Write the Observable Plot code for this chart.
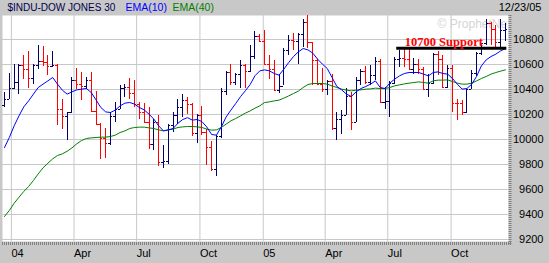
<!DOCTYPE html>
<html><head><meta charset="utf-8">
<script src="https://cdn.jsdelivr.net/npm/d3@7"></script>
<script src="https://cdn.jsdelivr.net/npm/@observablehq/plot@0.6"></script>
<style>html,body{margin:0;padding:0;background:#c8c8c8;} #chart{width:549px;height:263px;overflow:hidden}</style>
</head><body><div id="chart"></div>
<script>
// Weekly bars, week of 2003-12-22 through week of 2005-12-19
const firstWeek = "2003-12-22";
const lastWeek = "2005-12-20";
const opens = [10270,10318,10409,10458,10590,10563,10488,10593,10628,10620,
 10584,10595,10240,10186,10213,10470,10442,10425,10472,10225,
 10117,10012,9966,10188,10242,10410,10416,10371,10282,10213,
 10140,9962,10139,9815,9825,10110,10195,10260,10313,10284,
 10047,10192,10055,9933,9757,10027,10387,10539,10456,10522,
 10592,10543,10661,10827,10783,10603,10558,10392,10427,10716,
 10796,10785,10841,10940,10774,10629,10442,10404,10461,10087,
 10157,10192,10345,10140,10471,10542,10460,10512,10623,10297,
 10303,10449,10640,10651,10641,10558,10600,10559,10397,10447,
 10678,10641,10419,10569,10292,10287,10215,10402,10530,10686,
 10766,10931,10877,10778,10875];
const highs = [10376,10528,10597,10597,10669,10701,10597,10755,10741,10675,
 10701,10597,10323,10216,10496,10568,10536,10500,10536,10381,
 10125,10088,10216,10296,10435,10443,10488,10469,10296,10291,
 10256,10157,10195,9949,10120,10216,10317,10363,10336,10290,
 10200,10264,10083,9981,10029,10408,10545,10597,10528,10635,
 10600,10749,10861,10843,10869,10669,10629,10523,10728,10829,
 10851,10851,10963,10989,10780,10640,10568,10469,10523,10216,
 10230,10408,10376,10496,10557,10584,10589,10656,10643,10416,
 10461,10656,10709,10723,10728,10650,10640,10580,10523,10685,
 10701,10675,10589,10595,10317,10309,10403,10549,10696,10770,
 10957,10936,10915,10963,10931];
const lows = [10256,10317,10403,10363,10483,10408,10443,10557,10584,10509,
 10576,10115,10083,9995,10208,10397,10309,10397,10216,10109,
 9843,9851,9955,10136,10237,10336,10323,10256,10157,10136,
 9923,9909,9784,9768,9803,10056,10123,10176,10203,10024,
 9971,10029,9789,9741,9708,10008,10355,10435,10435,10408,
 10408,10535,10643,10776,10589,10483,10389,10368,10429,10669,
 10709,10603,10736,10728,10435,10435,10376,10349,10069,9989,
 10040,10189,10069,10136,10435,10443,10429,10469,10296,10243,
 10176,10440,10576,10576,10549,10520,10520,10390,10336,10440,
 10509,10410,10410,10216,10149,10190,10205,10403,10504,10675,
 10749,10749,10736,10723,10781];
const closes = [10318,10409,10458,10590,10563,10488,10593,10628,10620,10584,
 10595,10240,10186,10213,10470,10442,10425,10472,10225,10117,
 10012,9966,10188,10242,10410,10416,10371,10282,10213,10140,
 9962,10139,9815,9825,10110,10195,10260,10313,10284,10047,
 10192,10055,9933,9757,10027,10387,10539,10456,10522,10592,
 10543,10661,10827,10783,10603,10558,10392,10427,10716,10796,
 10785,10841,10940,10774,10629,10442,10404,10461,10087,10157,
 10192,10345,10140,10471,10542,10460,10512,10623,10297,10303,
 10449,10640,10651,10641,10558,10600,10559,10397,10447,10678,
 10641,10419,10569,10292,10287,10215,10402,10530,10686,10766,
 10931,10877,10778,10875,10883];
const ema10 = [9936,10016,10109,10189,10261,10309,10363,10416,10443,10469,
 10496,10443,10395,10363,10381,10397,10403,10408,10376,10317,
 10256,10221,10216,10235,10269,10291,10296,10283,10256,10237,
 10203,10163,10109,10069,10077,10088,10130,10160,10175,10155,
 10160,10143,10100,10040,10035,10100,10180,10235,10288,10343,
 10390,10440,10510,10549,10557,10549,10528,10515,10563,10616,
 10664,10701,10728,10717,10691,10643,10603,10568,10496,10424,
 10397,10363,10344,10381,10408,10424,10443,10469,10416,10408,
 10451,10483,10509,10528,10536,10536,10536,10523,10509,10536,
 10541,10528,10523,10488,10443,10403,10408,10443,10504,10589,
 10637,10664,10683,10709,10728];
const ema40 = [9384,9432,9490,9538,9584,9624,9672,9725,9773,9810,
 9845,9872,9885,9906,9933,9965,9992,10008,10013,10016,
 10019,10019,10024,10035,10056,10069,10088,10096,10099,10099,
 10093,10088,10077,10069,10077,10083,10096,10101,10104,10104,
 10101,10096,10083,10075,10077,10096,10123,10149,10168,10189,
 10211,10229,10251,10269,10296,10301,10309,10315,10331,10349,
 10368,10387,10416,10440,10448,10448,10448,10443,10429,10416,
 10403,10395,10389,10395,10397,10403,10405,10411,10408,10408,
 10416,10429,10437,10445,10451,10456,10461,10456,10451,10469,
 10475,10475,10477,10464,10451,10443,10443,10451,10469,10488,
 10504,10523,10536,10547,10557];

const xTickDates = ["2004-01-01","2004-04-01","2004-07-01","2004-10-01","2005-01-01","2005-04-01","2005-07-01","2005-10-01"];
const xTickLabels = ["04","Apr","Jul","Oct","05","Apr","Jul","Oct"];
const yTicks = [9200,9400,9600,9800,10000,10200,10400,10600,10800];

const titleText = "$INDU-DOW JONES 30";
const ema10Label = "EMA(10)";
const ema40Label = "EMA(40)";
const dateLabel = "12/23/05";
const watermark = "\u00A9 ProphetNet";
const supportLabel = "10700 Support";
const supportLevel = [10730];
const supportStart = "2005-07-14";
const supportEnd = "2005-12-21";

const NAVY = "#000066", RED = "#ff0000", BLUE = "#0000ff", GREEN = "#008000", GRID = "#c8c8c8";

const dates = d3.utcMonday.range(new Date(firstWeek), new Date(lastWeek));
const data = dates.map((date, i) => ({date, open: opens[i], high: highs[i], low: lows[i], close: closes[i], ema10: ema10[i], ema40: ema40[i]}));
const barColor = d => d.close >= d.open ? NAVY : RED;
const tickDates = xTickDates.map(s => new Date(s));
const supportData = supportLevel.map(v => ({y: v, x1: new Date(supportStart), x2: new Date(supportEnd)}));
const yMin = 9184, yMax = 10992;
const xMin = new Date("2003-12-19T02:00Z"), xMax = new Date("2005-12-23T10:00Z");

const chart = Plot.plot({
  width: 549, height: 263,
  marginLeft: 2, marginRight: 41, marginTop: 15, marginBottom: 22,
  style: {background: "#c8c8c8", fontFamily: "'Liberation Sans', Arial, sans-serif", fontSize: "11px", color: "black"},
  x: {type: "utc", domain: [xMin, xMax], axis: null},
  y: {domain: [yMin, yMax], axis: null},
  color: {type: "identity"},
  marks: [
    Plot.frame({fill: "white", stroke: "none"}),
    Plot.gridX(tickDates, {stroke: GRID, strokeOpacity: 1, strokeWidth: 1}),
    Plot.gridY(yTicks, {stroke: GRID, strokeOpacity: 1, strokeWidth: 1}),
    Plot.text([watermark], {frameAnchor: "top-right", textAnchor: "end", lineAnchor: "middle", dy: 9, dx: 2, fill: "#d4d4d4", fontSize: 12, clip: true}),
    Plot.ruleX(data, {x: "date", y1: "low", y2: "high", stroke: barColor, strokeWidth: 1, shapeRendering: "crispEdges"}),
    Plot.ruleY(data, {y: "open", x1: d => d3.utcDay.offset(d.date, -3), x2: "date", stroke: barColor, strokeWidth: 1, shapeRendering: "crispEdges"}),
    Plot.ruleY(data, {y: "close", x1: "date", x2: d => d3.utcDay.offset(d.date, 3), stroke: barColor, strokeWidth: 1, shapeRendering: "crispEdges"}),
    Plot.line(data, {x: "date", y: "ema40", stroke: GREEN, strokeWidth: 1}),
    Plot.line(data, {x: "date", y: "ema10", stroke: BLUE, strokeWidth: 1}),
    Plot.ruleY(supportData, {y: "y", x1: "x1", x2: "x2", stroke: "black", strokeWidth: 3}),
    Plot.text(supportData, {x: "x1", y: "y", text: () => supportLabel, textAnchor: "start", lineAnchor: "bottom", dx: 8, dy: -2, fill: RED, fontFamily: "'Liberation Serif', 'Times New Roman', serif", fontWeight: "bold", fontSize: 12.5}),
    Plot.ruleY([yMin], {stroke: "#808080", strokeWidth: 3, strokeDasharray: "1,1", dy: 2, insetRight: -3}),
    Plot.ruleX([xMax], {stroke: "#808080", strokeWidth: 3, strokeDasharray: "1,1", dx: 1.5, insetBottom: -3}),
    Plot.axisX(tickDates, {anchor: "bottom", tickSize: 0, tickPadding: 8, textAnchor: "start", tickFormat: (d, i) => xTickLabels[i], fontSize: 11, fill: "black"}),
    Plot.axisY(yTicks, {anchor: "right", tickSize: 0, tickPadding: 35, textAnchor: "end", tickFormat: d => String(d), fontSize: 11, fill: "black"}),
    Plot.text([titleText], {frameAnchor: "top-left", textAnchor: "start", lineAnchor: "middle", dx: 5, dy: -8, fill: "#000050", fontSize: 10}),
    Plot.text([ema10Label], {frameAnchor: "top-left", textAnchor: "start", lineAnchor: "middle", dx: 123, dy: -8, fill: BLUE, fontSize: 10.5}),
    Plot.text([ema40Label], {frameAnchor: "top-left", textAnchor: "start", lineAnchor: "middle", dx: 170, dy: -8, fill: GREEN, fontSize: 10.5}),
    Plot.text([dateLabel], {frameAnchor: "top-right", textAnchor: "end", lineAnchor: "middle", dx: 33, dy: -8, fill: "black", fontSize: 11})
  ]
});
document.getElementById("chart").append(chart);
</script>
</body></html>
